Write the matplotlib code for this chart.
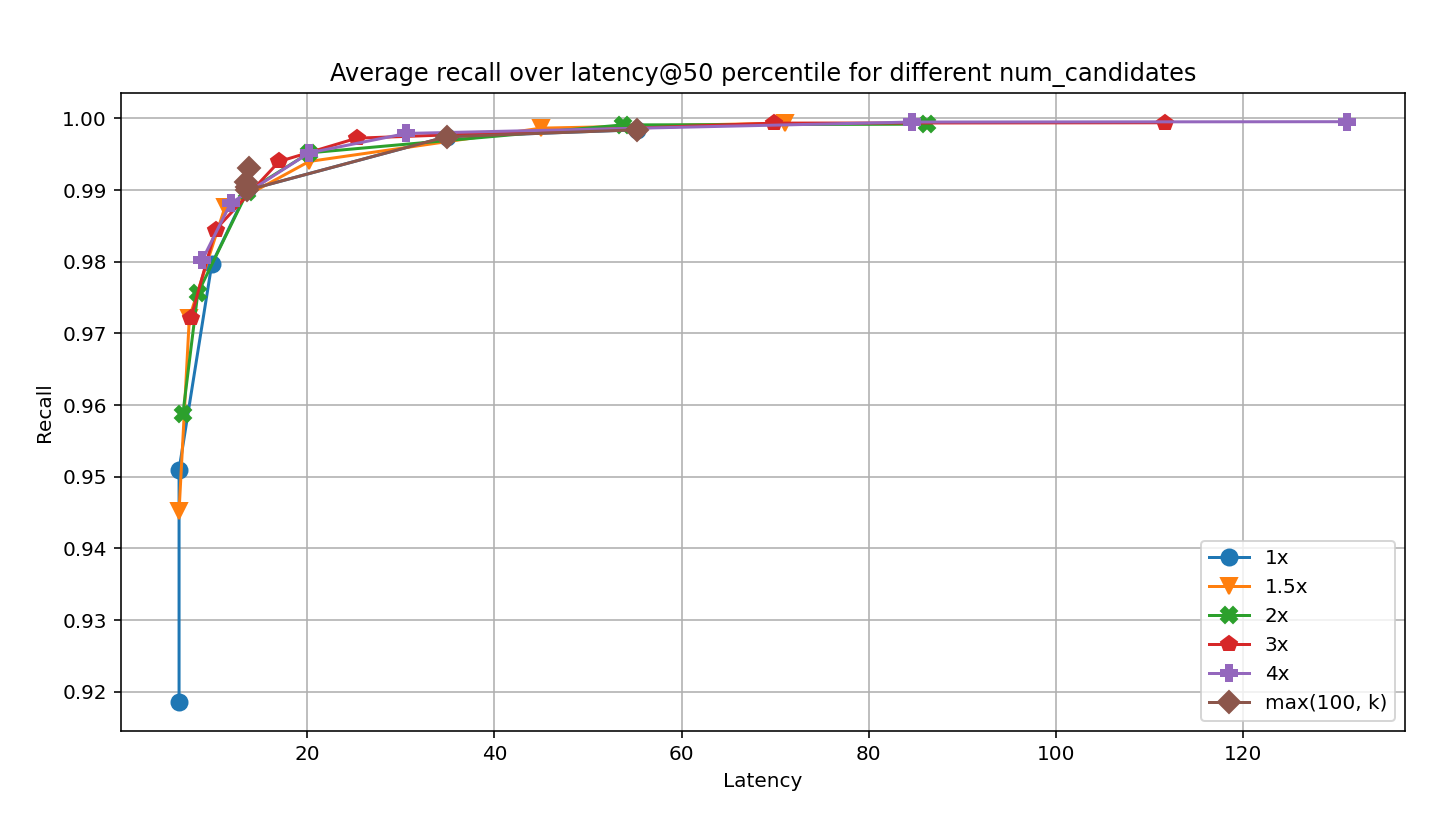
import matplotlib
matplotlib.use("Agg")
import matplotlib.pyplot as plt

# latency (x) and recall (y) per num_candidates setting
lat_1x = [6.3, 6.3, 9.8, 13.6, 34.9, 55.2]
rec_1x = [0.9186, 0.9510, 0.9797, 0.9900, 0.99745, 0.99842]

lat_15x = [6.3, 7.4, 11.2, 20.2, 45.0, 71.0]
rec_15x = [0.9452, 0.9722, 0.9876, 0.9940, 0.99865, 0.99935]

lat_2x = [6.7, 8.3, 13.6, 20.2, 53.7, 86.2]
rec_2x = [0.9587, 0.9756, 0.9898, 0.9952, 0.9991, 0.9992]

lat_3x = [7.55, 10.2, 17.0, 25.3, 69.9, 111.7]
rec_3x = [0.9721, 0.9845, 0.9940, 0.99725, 0.99935, 0.9994]

lat_4x = [8.8, 11.8, 20.2, 30.6, 84.6, 131.1]
rec_4x = [0.9803, 0.98815, 0.9952, 0.99791, 0.9995, 0.99955]

lat_max = [13.8, 13.5, 13.6, 13.6, 34.9, 55.2]
rec_max = [0.9931, 0.9911, 0.9904, 0.9900, 0.99745, 0.99842]

series = [
    (lat_1x, rec_1x, "o", "1x"),
    (lat_15x, rec_15x, "v", "1.5x"),
    (lat_2x, rec_2x, "X", "2x"),
    (lat_3x, rec_3x, "p", "3x"),
    (lat_4x, rec_4x, "P", "4x"),
    (lat_max, rec_max, "D", "max(100, k)"),
]

fig = plt.figure(figsize=(10, 835 / 144), dpi=144)
ax = fig.add_subplot(111)
fig.subplots_adjust(left=0.0838, right=0.9759, top=0.889, bottom=0.1249)

for x, y, m, lab in series:
    ax.plot(x, y, marker=m, markersize=8, label=lab)

ax.set_yticks([0.92, 0.93, 0.94, 0.95, 0.96, 0.97, 0.98, 0.99, 1.00])
ax.set_xlabel("Latency")
ax.set_ylabel("Recall")
ax.set_title("Average recall over latency@50 percentile for different num_candidates")
ax.grid()
ax.legend(loc="lower right")

fig.savefig("out.png", dpi=144)
